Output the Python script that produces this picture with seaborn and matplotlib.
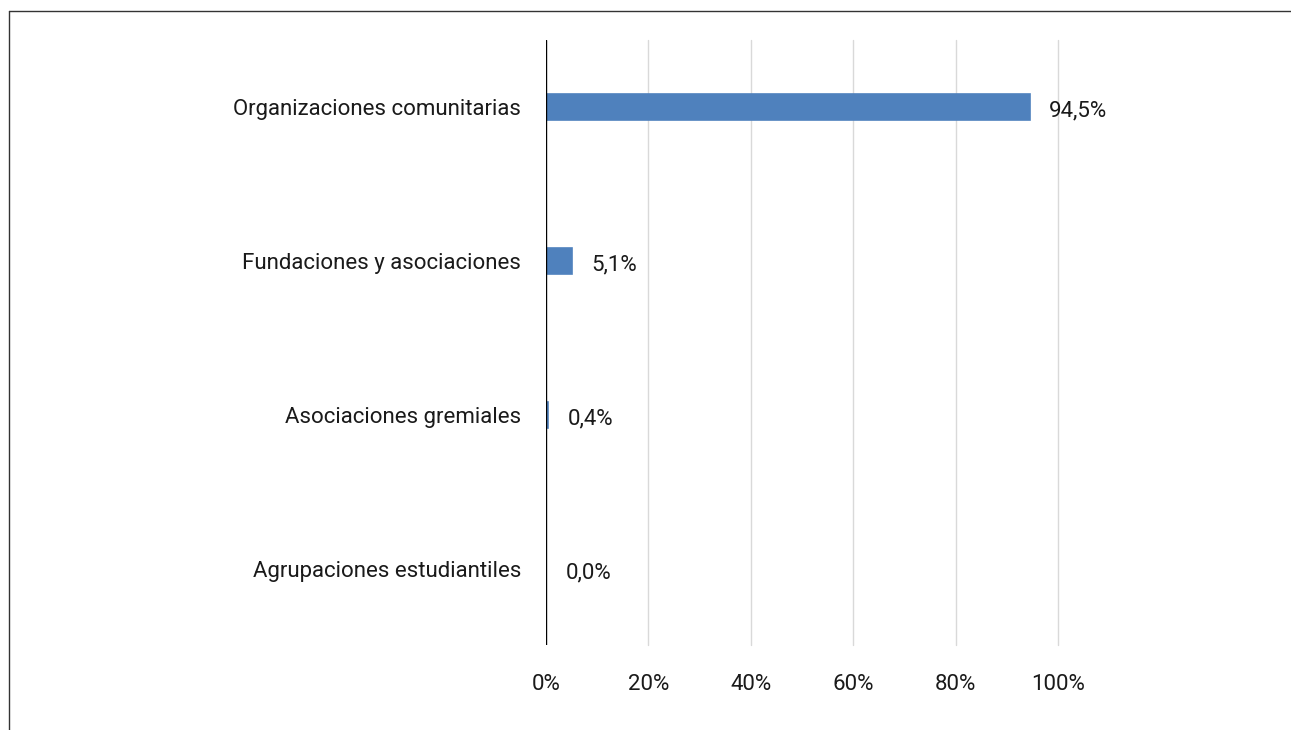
import numpy as np
import pandas as pd
import matplotlib as mpl
import seaborn as sns
from matplotlib import pyplot as plt
from matplotlib.lines import Line2D

#%% Data
categorias = ['Organizaciones comunitarias', 'Fundaciones y asociaciones',
              'Asociaciones gremiales', 'Agrupaciones estudiantiles']
porcentajes = [0.945, 0.051, 0.004, 0.0]
ticks_x = [0, 0.2, 0.4, 0.6, 0.8, 1.0]
ticks_x_labels = ['0%', '20%', '40%', '60%', '80%', '100%']

df = pd.DataFrame({'categoria': categorias, 'valor': porcentajes})

#%% Style
sns.set_style('white')
plt.rcParams['font.family'] = ['Roboto', 'DejaVu Sans']
plt.rcParams['font.size'] = 16

BAR_COLOR = '#4F81BD'
GRID_COLOR = '#D9D9D9'
TEXT_COLOR = '#1a1a1a'

#%% Plot
fig = plt.figure(figsize=(12.91, 7.30), dpi=100)
ax = fig.add_axes([546 / 1291, 1 - 645 / 730, (1058 - 546) / 1291, (645 - 40) / 730])

sns.barplot(data=df, y='categoria', x='valor', orient='h', color=BAR_COLOR,
            width=0.165, saturation=1, edgecolor=BAR_COLOR, linewidth=1.2, ax=ax)

ax.set_xlim(0, 1.0)
ax.set_ylim(3.494, -0.435)
ax.set_xticks(ticks_x)
ax.set_xticklabels(ticks_x_labels, color=TEXT_COLOR)
ax.set_xlabel('')
ax.set_ylabel('')

for x in ticks_x[1:]:
    ax.axvline(x, color=GRID_COLOR, lw=1, zorder=0, clip_on=False)
ax.axvline(0, color='black', lw=1, zorder=3)

for s in ax.spines.values():
    s.set_visible(False)

ax.tick_params(axis='x', length=0, pad=21)
ax.tick_params(axis='y', length=0, pad=18, colors=TEXT_COLOR)

for i, v in enumerate(porcentajes):
    txt = f'{v * 100:.1f}%'.replace('.', ',')
    ax.annotate(txt, xy=(v, i), xytext=(14, -3), textcoords='offset points',
                ha='left', va='center', fontsize=16, color=TEXT_COLOR)

# Partial frame (top and left)
fig.add_artist(Line2D([9 / 1291, 9 / 1291], [0, 1 - 11 / 730], color='#333333', lw=1,
                      transform=fig.transFigure))
fig.add_artist(Line2D([9 / 1291, 1], [1 - 11 / 730, 1 - 11 / 730], color='#333333', lw=1,
                      transform=fig.transFigure))

fig.savefig('out.png', dpi=100)
plt.close()
